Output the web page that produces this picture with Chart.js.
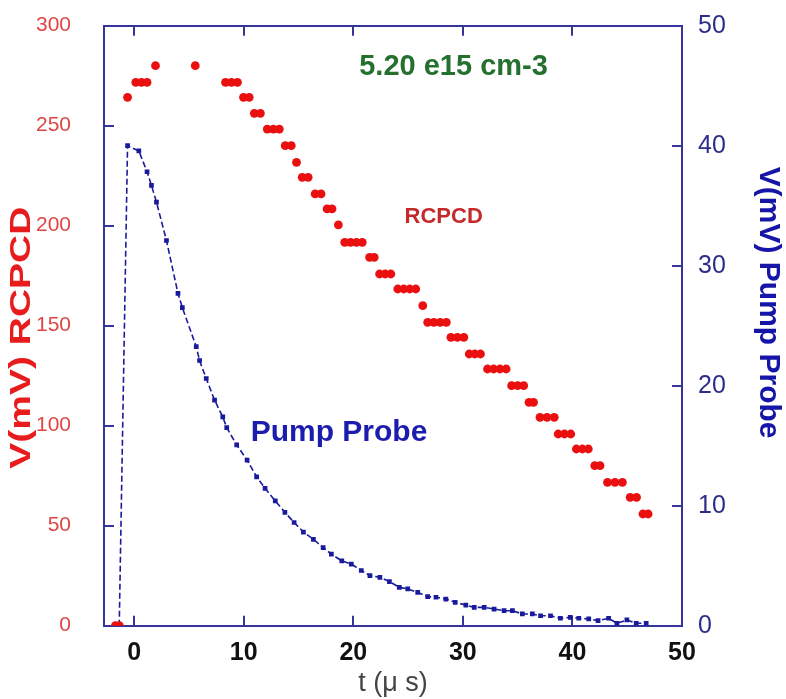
<!DOCTYPE html>
<html>
<head>
<meta charset="utf-8">
<script src="https://cdn.jsdelivr.net/npm/chart.js@4/dist/chart.umd.min.js"></script>
<style>
  html, body { margin: 0; padding: 0; background: #ffffff; }
  #wrap { width: 786px; height: 699px; position: relative; }
</style>
</head>
<body>
<div id="wrap"><canvas id="c" width="786" height="699"></canvas></div>
<script>
// ---- data ----
const rcpcdTime = [-1.71, -1.35, -0.6, 0.15, 0.67, 1.18, 1.95, 5.58,
  8.34, 8.88, 9.43, 9.98, 10.5, 10.97, 11.52, 12.15, 12.7, 13.25, 13.79, 14.34,
  14.82, 15.34, 15.88, 16.52, 17.06, 17.61, 18.06, 18.64, 19.22, 19.75, 20.29, 20.82,
  21.49, 21.91, 22.4, 22.91, 23.43, 24.06, 24.61, 25.15, 25.7, 26.34,
  26.79, 27.35, 27.93, 28.49, 28.91, 29.5, 30.09, 30.58, 31.09, 31.61,
  32.25, 32.81, 33.38, 33.95, 34.45, 35.0, 35.55, 36.04, 36.45,
  37.04, 37.68, 38.34, 38.7, 39.27, 39.85, 40.36, 40.91, 41.45, 42.04, 42.52,
  43.2, 43.88, 44.56, 45.27, 45.85, 46.43, 46.91];
const rcpcdMv = [0, 0, 264.2, 271.7, 271.7, 271.7, 280, 280,
  271.7, 271.7, 271.7, 264.2, 264.2, 256.2, 256.2, 248.3, 248.3, 248.3, 240, 240,
  231.7, 224.2, 224.2, 215.9, 215.9, 208.4, 208.4, 200.4, 191.7, 191.7, 191.7, 191.7,
  184.2, 184.2, 175.85, 175.85, 175.85, 168.35, 168.35, 168.35, 168.35, 160,
  151.7, 151.7, 151.7, 151.7, 144.2, 144.2, 144.2, 135.85, 135.85, 135.85,
  128.35, 128.35, 128.35, 128.35, 120, 120, 120, 111.7, 111.7,
  104.2, 104.2, 104.2, 95.85, 95.85, 95.85, 88.35, 88.35, 88.35, 80, 80,
  71.7, 71.7, 71.7, 64.2, 64.2, 55.85, 55.85];

const probeTime = [-1.36, -0.6, 0.43, 1.18, 1.58, 2.04, 2.95, 4.0, 4.4, 5.67, 5.97, 6.58, 7.34,
  8.09, 8.45, 9.36, 10.31, 11.18, 11.95, 12.88, 13.76, 14.6, 15.45, 16.36, 17.25, 18.0,
  18.95, 19.82, 20.73, 21.52, 22.43, 23.3, 24.2, 24.97, 25.88, 26.79, 27.55, 28.45,
  29.3, 30.27, 31.04, 31.95, 32.85, 33.76, 34.52, 35.43, 36.34, 37.09, 38.0, 38.9,
  39.8, 40.58, 41.49, 42.34, 43.3, 44.06, 44.97, 45.82, 46.73];
const probeMv = [0, 40.0, 39.56, 37.83, 36.7, 35.3, 32.1, 27.7, 26.5, 23.25, 22.1, 20.6, 18.8,
  17.4, 16.5, 15.06, 13.8, 12.4, 11.45, 10.4, 9.45, 8.6, 7.8, 7.2, 6.5, 5.97,
  5.4, 5.14, 4.6, 4.17, 4.03, 3.67, 3.2, 3.06, 2.78, 2.42, 2.37, 2.22,
  1.95, 1.72, 1.53, 1.53, 1.39, 1.25, 1.25, 0.98, 0.98, 0.83, 0.83, 0.62,
  0.7, 0.62, 0.56, 0.42, 0.62, 0.2, 0.48, 0.2, 0.2];

const xTicks = [0, 10, 20, 30, 40, 50];
const topTicks = [0, 10, 20, 30, 40];
const leftTicks = [0, 50, 100, 150, 200, 250, 300];
const rightTicks = [0, 10, 20, 30, 40, 50];

const labelConcentration = '5.20 e15 cm-3';
const labelRcpcd = 'RCPCD';
const labelProbe = 'Pump Probe';

// ---- build ----
const rcpcdPoints = rcpcdTime.map((t, i) => ({ x: t, y: rcpcdMv[i] }));
const probePoints = probeTime.map((t, i) => ({ x: t, y: probeMv[i] }));

const NAVY = '#34349a';
const FONT = "'Liberation Sans', Arial, Helvetica, sans-serif";

const annot = {
  id: 'annot',
  beforeDraw(chart) {
    // nudge / stretch the axis titles to match the reference typesetting
    const wrap = (s, dy, sy) => {
      if (!s || s._titleWrapped) return;
      const orig = s.drawTitle;
      s.drawTitle = function () {
        const c = this.ctx;
        const cy = (this.top + this.bottom) / 2;
        c.save();
        c.translate(0, cy + dy);
        c.scale(1, sy);
        c.translate(0, -cy);
        orig.apply(this, arguments);
        c.restore();
      };
      s._titleWrapped = true;
    };
    wrap(chart.scales.y, 12, 1.3);
    wrap(chart.scales.y2, -23, 1.0);
  },
  afterDatasetsDraw(chart) {
    const ctx = chart.ctx;
    const x = chart.scales.x, y = chart.scales.y, y2 = chart.scales.y2;
    ctx.save();
    ctx.textAlign = 'center';
    ctx.textBaseline = 'middle';
    ctx.font = 'bold 29px ' + FONT;
    ctx.fillStyle = '#23702f';
    ctx.fillText(labelConcentration, x.getPixelForValue(29.15), y.getPixelForValue(279.5));
    ctx.font = 'bold 22px ' + FONT;
    ctx.fillStyle = '#c42a2c';
    ctx.fillText(labelRcpcd, x.getPixelForValue(28.25), y.getPixelForValue(204.4));
    ctx.font = 'bold 30px ' + FONT;
    ctx.fillStyle = '#1c1cae';
    ctx.fillText(labelProbe, x.getPixelForValue(18.7), y2.getPixelForValue(16.1));
    ctx.restore();
  }
};

function tickSet(vals) {
  return function (scale) { scale.ticks = vals.map(v => ({ value: v })); };
}
function fitH(h) {
  return function (s) { s.height = h; s.paddingLeft = 0; s.paddingRight = 0; s.paddingTop = 0; s.paddingBottom = 0; };
}
function fitW(w) {
  return function (s) { s.width = w; s.paddingTop = 0; s.paddingBottom = 0; s.paddingLeft = 0; s.paddingRight = 0; };
}

new Chart(document.getElementById('c'), {
  type: 'scatter',
  data: {
    datasets: [
      {
        label: 'Pump Probe',
        data: probePoints,
        yAxisID: 'y2',
        xAxisID: 'x',
        showLine: true,
        borderColor: '#1a1a9c',
        backgroundColor: '#1a1a9c',
        borderWidth: 1.6,
        borderDash: [6, 3],
        pointStyle: 'rect',
        pointRadius: 2.2,
        pointHoverRadius: 2.2,
        tension: 0,
        order: 2
      },
      {
        label: 'RCPCD',
        data: rcpcdPoints,
        yAxisID: 'y',
        xAxisID: 'x',
        showLine: false,
        backgroundColor: '#ea1010',
        borderColor: '#ea1010',
        borderWidth: 0,
        pointStyle: 'circle',
        pointRadius: 4.4,
        pointHoverRadius: 4.4,
        order: 1
      }
    ]
  },
  options: {
    responsive: false,
    animation: false,
    devicePixelRatio: 1,
    layout: { padding: 0 },
    plugins: { legend: { display: false }, tooltip: { enabled: false } },
    scales: {
      x: {
        type: 'linear', position: 'bottom', min: -2.75, max: 50,
        afterBuildTicks: tickSet(xTicks),
        afterFit: fitH(73.3),
        border: { color: NAVY, width: 2 },
        grid: { drawOnChartArea: false, drawTicks: true, tickLength: -10, color: NAVY, lineWidth: 2 },
        ticks: { color: '#111111', padding: 22, font: { family: FONT, size: 25, weight: 'bold' } },
        title: { display: true, text: 't (μ s)', color: '#444444', padding: { top: 0, bottom: 2 },
                 font: { family: FONT, size: 27, lineHeight: 1.0 } }
      },
      x2: {
        type: 'linear', position: 'top', min: -2.75, max: 50,
        afterBuildTicks: tickSet(topTicks),
        afterFit: fitH(25.7),
        border: { color: NAVY, width: 2 },
        grid: { drawOnChartArea: false, drawTicks: true, tickLength: -10, color: NAVY, lineWidth: 2 },
        ticks: { display: false }
      },
      y: {
        type: 'linear', position: 'left', min: 0, max: 300,
        afterBuildTicks: tickSet(leftTicks),
        afterFit: fitW(104),
        border: { color: NAVY, width: 2 },
        grid: { drawOnChartArea: false, drawTicks: true, tickLength: -10, color: NAVY, lineWidth: 2 },
        ticks: { color: '#e04545', padding: 43, font: { family: FONT, size: 21 } },
        title: { display: true, text: 'V(mV) RCPCD', color: '#e81c1c', padding: { top: 7, bottom: 0 },
                 font: { family: FONT, size: 30, weight: 'bold', lineHeight: 1.0 } }
      },
      y2: {
        type: 'linear', position: 'right', min: 0, max: 50,
        afterBuildTicks: tickSet(rightTicks),
        afterFit: fitW(104),
        border: { color: NAVY, width: 2 },
        grid: { drawOnChartArea: false, drawTicks: true, tickLength: -10, color: NAVY, lineWidth: 2 },
        ticks: { color: '#2d2d8c', padding: 26, font: { family: FONT, size: 25 } },
        title: { display: true, text: 'V(mV) Pump Probe', color: '#1515a8', padding: { top: 3, bottom: 0 },
                 font: { family: FONT, size: 30, weight: 'bold', lineHeight: 1.0 } }
      }
    }
  },
  plugins: [annot]
});
</script>
</body>
</html>
